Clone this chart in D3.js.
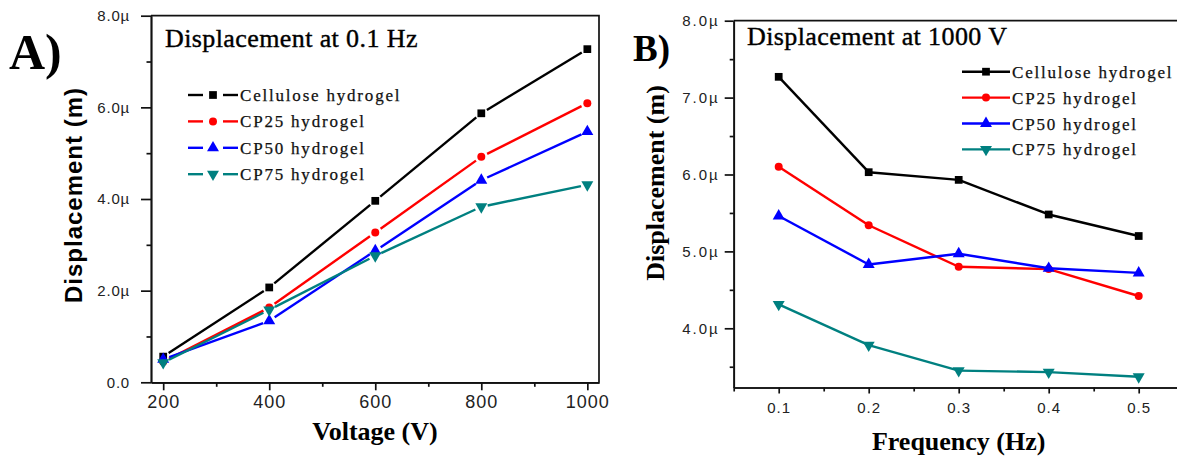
<!DOCTYPE html>
<html>
<head>
<meta charset="utf-8">
<script src="https://cdn.jsdelivr.net/npm/d3@7"></script>
<style>
  body { margin: 0; background: #fff; }
</style>
</head>
<body>
<script>
// values in micrometres
const voltages = [200, 400, 600, 800, 1000];
const frequencies = [0.1, 0.2, 0.3, 0.4, 0.5];

const seriesNames = ["Cellulose hydrogel", "CP25 hydrogel", "CP50 hydrogel", "CP75 hydrogel"];
const seriesColors = ["#000000", "#ff0000", "#0000ff", "#008080"];
const seriesSymbols = ["square", "circle", "triangle", "triangleDown"];

const celluloseV = [0.56, 2.07, 3.96, 5.87, 7.27];
const cp25V = [0.45, 1.63, 3.27, 4.92, 6.09];
const cp50V = [0.50, 1.34, 2.87, 4.41, 5.47];
const cp75V = [0.43, 1.58, 2.76, 3.83, 4.31];

const celluloseF = [7.27, 6.03, 5.93, 5.48, 5.20];
const cp25F = [6.10, 5.34, 4.80, 4.77, 4.42];
const cp50F = [5.46, 4.83, 4.97, 4.78, 4.72];
const cp75F = [4.31, 3.78, 3.45, 3.43, 3.37];

const xTicksA = [200, 400, 600, 800, 1000];
const xMinorA = [300, 500, 700, 900];
const yTicksA = [0, 2, 4, 6, 8];
const yMinorA = [1, 3, 5, 7];

const xTicksB = [0.1, 0.2, 0.3, 0.4, 0.5];
const xMinorB = [0.05, 0.15, 0.25, 0.35, 0.45];
const yTicksB = [4, 5, 6, 7, 8];
const yMinorB = [3.5, 4.5, 5.5, 6.5, 7.5];

const serif = "'Liberation Serif', 'Times New Roman', serif";
const sans = "'Liberation Sans', Arial, sans-serif";

const svg = d3.select("body").append("svg")
    .attr("width", 1177)
    .attr("height", 457);

function symbolPath(kind) {
    if (kind === "square") return d3.symbol(d3.symbolSquare, 60)();
    if (kind === "circle") return d3.symbol(d3.symbolCircle, 50)();
    return d3.symbol(d3.symbolTriangle, 62)();
}

function markerAttr(selection, kind, color) {
    selection
        .attr("d", symbolPath(kind))
        .attr("fill", color)
        .attr("stroke", "none");
}

function tickText(selection, size, spacing) {
    selection.selectAll("text")
        .attr("font-family", sans)
        .attr("font-size", size)
        .attr("letter-spacing", spacing)
        .attr("fill", "#222");
}

function axisStyle(selection) {
    selection.selectAll("path, line")
        .attr("stroke", "#111")
        .attr("stroke-width", 1.7);
}

function drawPanel(p) {
    const g = svg.append("g");
    const x = d3.scaleLinear().domain(p.xDomain).range(p.xRange);
    const y = d3.scaleLinear().domain(p.yDomain).range(p.yRange);

    // minor ticks first, majors on top
    g.append("g")
        .attr("transform", `translate(0,${p.yRange[0]})`)
        .call(d3.axisBottom(x).tickValues(p.xMinor).tickSize(p.xMinorLen).tickSizeOuter(0).tickFormat(""))
        .call(axisStyle);
    g.append("g")
        .attr("transform", `translate(${p.xRange[0]},0)`)
        .call(d3.axisLeft(y).tickValues(p.yMinor).tickSize(p.yMinorLen).tickSizeOuter(0).tickFormat(""))
        .call(axisStyle);

    g.append("g")
        .attr("transform", `translate(0,${p.yRange[0]})`)
        .call(d3.axisBottom(x).tickValues(p.xTicks).tickSize(p.xTickLen).tickSizeOuter(0)
            .tickPadding(p.xPad).tickFormat(p.xFormat))
        .call(axisStyle)
        .call(tickText, p.xFont, p.xSpacing);
    g.append("g")
        .attr("transform", `translate(${p.xRange[0]},0)`)
        .call(d3.axisLeft(y).tickValues(p.yTicks).tickSize(p.yTickLen).tickSizeOuter(0)
            .tickPadding(p.yPad).tickFormat(p.yFormat))
        .call(axisStyle)
        .call(tickText, p.yFont, p.ySpacing);

    // top and right frame
    g.append("path")
        .attr("d", `M${p.xRange[0]},${p.yRange[1]}H${p.xRange[1]}V${p.yRange[0]}`)
        .attr("fill", "none")
        .attr("stroke", "#111")
        .attr("stroke-width", 1.7);

    // series
    p.series.forEach((s, si) => {
        const pts = p.xValues.map((v, i) => [x(v), y(s[i])]);
        const lines = g.append("g");
        for (let i = 0; i < pts.length - 1; i++) {
            let [x1, y1] = pts[i];
            let [x2, y2] = pts[i + 1];
            const len = Math.hypot(x2 - x1, y2 - y1);
            const t = p.gap / len;
            lines.append("line")
                .attr("x1", x1 + (x2 - x1) * t)
                .attr("y1", y1 + (y2 - y1) * t)
                .attr("x2", x2 - (x2 - x1) * t)
                .attr("y2", y2 - (y2 - y1) * t)
                .attr("stroke", seriesColors[si])
                .attr("stroke-width", 2.4);
        }
        g.append("g").selectAll("path")
            .data(pts)
            .enter()
            .append("path")
            .attr("transform", d => `translate(${d[0]},${d[1]})` + (seriesSymbols[si] === "triangleDown" ? " rotate(180)" : ""))
            .call(markerAttr, seriesSymbols[si], seriesColors[si]);
    });

    // legend
    const leg = g.append("g");
    seriesNames.forEach((name, i) => {
        const ly = p.legendY + i * p.legendStep;
        const lx = p.legendX;
        const mid = lx + p.legendLen / 2;
        if (p.legendGap > 0) {
            leg.append("line").attr("x1", lx).attr("x2", mid - p.legendGap)
                .attr("y1", ly).attr("y2", ly).attr("stroke", seriesColors[i]).attr("stroke-width", 2.4);
            leg.append("line").attr("x1", mid + p.legendGap).attr("x2", lx + p.legendLen)
                .attr("y1", ly).attr("y2", ly).attr("stroke", seriesColors[i]).attr("stroke-width", 2.4);
        } else {
            leg.append("line").attr("x1", lx).attr("x2", lx + p.legendLen)
                .attr("y1", ly).attr("y2", ly).attr("stroke", seriesColors[i]).attr("stroke-width", 2.4);
        }
        leg.append("path")
            .attr("transform", `translate(${mid},${ly})` + (seriesSymbols[i] === "triangleDown" ? " rotate(180)" : ""))
            .call(markerAttr, seriesSymbols[i], seriesColors[i]);
        leg.append("text")
            .attr("x", lx + p.legendLen + 2)
            .attr("y", ly + 6)
            .attr("font-family", serif)
            .attr("font-size", 17)
            .attr("letter-spacing", 1.8)
            .attr("fill", "#111")
            .attr("stroke", "#111")
            .attr("stroke-width", 0.25)
            .text(name);
    });

    // title inside the frame
    g.append("text")
        .attr("x", p.titleX)
        .attr("y", p.titleY)
        .attr("font-family", serif)
        .attr("font-size", 26)
        .attr("letter-spacing", 0.4)
        .attr("fill", "#000")
        .attr("stroke", "#000")
        .attr("stroke-width", 0.4)
        .text(p.title);

    // panel letter
    g.append("text")
        .attr("x", p.letterX)
        .attr("y", p.letterY)
        .attr("font-family", serif)
        .attr("font-weight", "bold")
        .attr("font-size", p.letterSize)
        .attr("fill", "#000")
        .text(p.letter);

    // axis titles
    g.append("text")
        .attr("x", p.xLabelX)
        .attr("y", p.xLabelY)
        .attr("text-anchor", "middle")
        .attr("font-family", serif)
        .attr("font-weight", "bold")
        .attr("font-size", 26)
        .attr("fill", "#000")
        .text(p.xLabel);
    g.append("text")
        .attr("transform", `translate(${p.yLabelX},${p.yLabelY}) rotate(-90)`)
        .attr("text-anchor", "middle")
        .attr("font-family", p.yLabelFont)
        .attr("font-weight", "bold")
        .attr("font-size", p.yLabelSize)
        .attr("letter-spacing", p.yLabelSpacing)
        .attr("fill", "#000")
        .text("Displacement (m)");
}

const micro = d => d.toFixed(1) + "\u00b5";

drawPanel({
    xDomain: [177, 1022], xRange: [151, 599],
    yDomain: [0, 8], yRange: [382.3, 15.7],
    xTicks: xTicksA, xMinor: xMinorA, yTicks: yTicksA, yMinor: yMinorA,
    xTickLen: 8, xMinorLen: 4.5, yTickLen: 10, yMinorLen: 4.5,
    xPad: 5, yPad: 11,
    xFormat: d => d, yFormat: d => d === 0 ? "0.0" : micro(d),
    xFont: 18, xSpacing: 1, yFont: 15, ySpacing: 0.8,
    xValues: voltages,
    series: [celluloseV, cp25V, cp50V, cp75V],
    gap: 6.5,
    legendX: 188, legendY: 95, legendStep: 26.4, legendLen: 50, legendGap: 10,
    title: "Displacement at 0.1 Hz", titleX: 165, titleY: 47,
    letter: "A)", letterX: 9, letterY: 69, letterSize: 50,
    xLabel: "Voltage (V)", xLabelX: 375, xLabelY: 440,
    yLabelX: 82, yLabelY: 195, yLabelFont: sans, yLabelSize: 24, yLabelSpacing: 1
});

drawPanel({
    xDomain: [0.05, 0.55], xRange: [733.7, 1183.7],
    yDomain: [3.23, 8], yRange: [387.5, 20.7],
    xTicks: xTicksB, xMinor: xMinorB, yTicks: yTicksB, yMinor: yMinorB,
    xTickLen: 6, xMinorLen: 4, yTickLen: 9, yMinorLen: 4,
    xPad: 9, yPad: 5,
    xFormat: d => d.toFixed(1), yFormat: micro,
    xFont: 15, xSpacing: 1, yFont: 15, ySpacing: 2,
    xValues: frequencies,
    series: [celluloseF, cp25F, cp50F, cp75F],
    gap: 0,
    legendX: 962, legendY: 71.7, legendStep: 25.9, legendLen: 48, legendGap: 0,
    title: "Displacement at 1000 V", titleX: 747, titleY: 45,
    letter: "B)", letterX: 633, letterY: 61, letterSize: 37,
    xLabel: "Frequency (Hz)", xLabelX: 958.7, xLabelY: 450,
    yLabelX: 664, yLabelY: 183, yLabelFont: serif, yLabelSize: 26, yLabelSpacing: 0
});
</script>
</body>
</html>
